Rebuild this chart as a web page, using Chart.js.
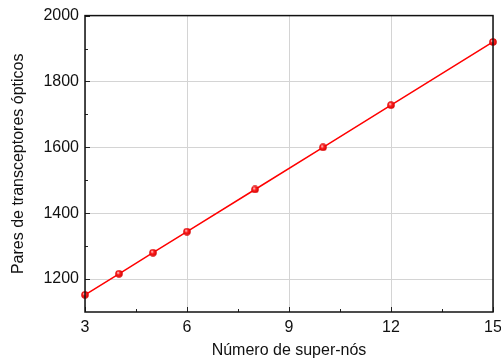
<!DOCTYPE html>
<html>
<head>
<meta charset="utf-8">
<script src="https://cdn.jsdelivr.net/npm/chart.js@4/dist/chart.umd.min.js"></script>
<style>
  html, body { margin: 0; padding: 0; background: #fff; }
  #wrap { width: 501px; height: 360px; }
</style>
</head>
<body>
<div id="wrap"><canvas id="c" width="501" height="360"></canvas></div>
<script>
// Number of super-nodes and the resulting optical transceiver pairs
const superNodes = [3, 4, 5, 6, 8, 10, 12, 15];
const transceiverPairs = [1152, 1216, 1280, 1344, 1472, 1600, 1728, 1920];

const xTicks = [3, 6, 9, 12, 15];
const xMinorTicks = [4.5, 7.5, 10.5, 13.5];
const yTicks = [1200, 1400, 1600, 1800, 2000];
const yMinorTicks = [1300, 1500, 1700, 1900];

const FONT = '"Liberation Sans", Arial, sans-serif';

// Shaded red ball used as the marker
function makeBall(d) {
  const cv = document.createElement('canvas');
  cv.width = d; cv.height = d;
  const g = cv.getContext('2d');
  const r = d / 2;
  const grad = g.createRadialGradient(r * 0.75, r * 0.7, 0.3, r, r, r);
  grad.addColorStop(0, '#ffd0d0');
  grad.addColorStop(0.35, '#ff2020');
  grad.addColorStop(1, '#d00000');
  g.fillStyle = grad;
  g.beginPath();
  g.arc(r, r, r - 0.2, 0, Math.PI * 2);
  g.fill();
  return cv;
}
const ball = makeBall(8);

// Box frame plus inward major/minor tick marks
const framePlugin = {
  id: 'frame',
  afterDraw(chart) {
    const { ctx, chartArea: a, scales } = chart;
    const xs = scales.x, ys = scales.y;
    ctx.save();
    ctx.strokeStyle = '#222';
    ctx.lineWidth = 1;
    ctx.beginPath();
    xMinorTicks.forEach(v => {
      const px = Math.round(xs.getPixelForValue(v)) + 0.5;
      ctx.moveTo(px, a.bottom); ctx.lineTo(px, a.bottom - 3);
    });
    xTicks.forEach(v => {
      const px = Math.round(xs.getPixelForValue(v)) + 0.5;
      ctx.moveTo(px, a.bottom); ctx.lineTo(px, a.bottom - 5);
    });
    yMinorTicks.forEach(v => {
      const py = Math.round(ys.getPixelForValue(v)) + 0.5;
      ctx.moveTo(a.left, py); ctx.lineTo(a.left + 3, py);
    });
    yTicks.forEach(v => {
      const py = Math.round(ys.getPixelForValue(v)) + 0.5;
      ctx.moveTo(a.left, py); ctx.lineTo(a.left + 5, py);
    });
    ctx.stroke();
    ctx.lineWidth = 1.5;
    ctx.strokeStyle = '#111';
    ctx.strokeRect(a.left, a.top, a.right - a.left, a.bottom - a.top);
    ctx.restore();
  }
};

new Chart(document.getElementById('c'), {
  type: 'scatter',
  data: {
    datasets: [{
      data: superNodes.map((x, i) => ({ x, y: transceiverPairs[i] })),
      showLine: true,
      borderColor: '#ff0000',
      borderWidth: 1.5,
      pointStyle: ball,
      pointRadius: 4,
      clip: false
    }]
  },
  options: {
    responsive: false,
    animation: false,
    layout: { padding: { top: 14, right: 0, left: 0, bottom: 0 } },
    plugins: { legend: { display: false }, tooltip: { enabled: false } },
    scales: {
      x: {
        type: 'linear',
        min: 3, max: 15,
        afterBuildTicks: s => { s.ticks = xTicks.map(v => ({ value: v })); },
        afterFit: s => { s.height = 48; s.paddingRight = 8; s.paddingLeft = 0; },
        grid: { color: '#d4d4d4', lineWidth: 1, drawTicks: false },
        border: { display: false },
        ticks: { color: '#111', font: { family: FONT, size: 16 }, padding: 6, maxRotation: 0,
                 callback: v => String(v) },
        title: { display: true, text: 'Número de super-nós', color: '#111', font: { family: FONT, size: 16 }, padding: { top: 2, bottom: 0 } }
      },
      y: {
        min: 1100, max: 2000,
        afterBuildTicks: s => { s.ticks = yTicks.map(v => ({ value: v })); },
        afterFit: s => { s.width = 85; },
        grid: { color: '#d4d4d4', lineWidth: 1, drawTicks: false },
        border: { display: false },
        ticks: { color: '#111', font: { family: FONT, size: 16 }, padding: 6,
                 callback: v => String(v) },
        title: { display: true, text: 'Pares de transceptores ópticos', color: '#111', font: { family: FONT, size: 16 }, padding: { top: 9, bottom: 0 } }
      }
    }
  },
  plugins: [framePlugin]
});
</script>
</body>
</html>
